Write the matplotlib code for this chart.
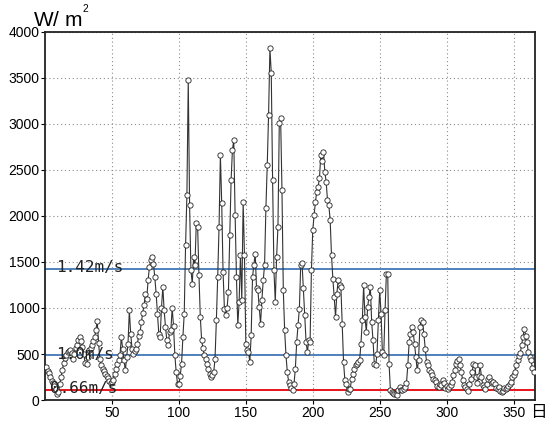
import numpy as np
import matplotlib
matplotlib.use("Agg")
import matplotlib.pyplot as plt

# daily wind power density (W/m2), days 1..365
power = [
    360, 320, 290, 250, 210, 190, 150, 120, 70, 90,
    170, 250, 330, 400, 460, 490, 520, 530, 540, 510,
    450, 500, 560, 600, 650, 680, 640, 580, 500, 400,
    390, 470, 540, 560, 600, 640, 680, 760, 860, 620,
    450, 380, 340, 320, 280, 260, 240, 210, 180, 200,
    213, 285, 340, 394, 440, 485, 684, 558, 431, 321,
    467, 612, 975, 721, 558, 503, 530, 558, 612, 700,
    739, 847, 950, 1029, 1154, 1101, 1301, 1446, 1519, 1555,
    1483, 1337, 1156, 940, 721, 684, 1000, 1230, 975, 794,
    650, 600, 740, 760, 1000, 805, 485, 300, 174, 174,
    264, 394, 685, 939, 1683, 2228, 3479, 2118, 1411, 1266,
    1556, 1466, 1919, 1883, 1357, 903, 649, 560, 485, 449,
    394, 340, 285, 249, 267, 300, 449, 867, 1339, 1883,
    2664, 2137, 1393, 994, 921, 1000, 1175, 1792, 2391, 2718,
    2827, 2010, 1339, 813, 1066, 1574, 1084, 2155, 1574, 613,
    540, 522, 413, 703, 1339, 1466, 1592, 1212, 1193, 1012,
    830, 1084, 1300, 1466, 2082, 2555, 3099, 3825, 3553, 2391,
    1411, 1066, 1556, 1883, 3008, 3062, 2282, 1193, 758, 485,
    303, 194, 158, 130, 104, 176, 340, 631, 813, 994,
    1466, 1484, 1212, 921, 631, 522, 649, 631, 1411, 1846,
    2010, 2155, 2264, 2319, 2410, 2664, 2600, 2700, 2482, 2373,
    2173, 2119, 1955, 1574, 1320, 1121, 903, 1157, 1302, 1248,
    1230, 830, 413, 212, 176, 86, 122, 122, 231, 285,
    340, 376, 394, 410, 431, 613, 867, 1248, 903, 740,
    1012, 1121, 1230, 849, 649, 394, 376, 503, 867, 1193,
    939, 522, 485, 976, 1375, 1375, 394, 104, 86, 75,
    68, 60, 50, 104, 140, 110, 111, 121, 140, 183,
    376, 630, 720, 793, 739, 612, 466, 322, 430, 793,
    866, 847, 720, 557, 411, 376, 322, 303, 267, 230,
    212, 194, 150, 140, 176, 160, 212, 190, 133, 150,
    121, 140, 160, 194, 267, 322, 394, 420, 448, 376,
    303, 212, 158, 140, 121, 100, 170, 230, 300, 394,
    380, 250, 190, 260, 376, 250, 160, 140, 121, 170,
    230, 248, 210, 180, 200, 170, 130, 121, 140, 100,
    85, 100, 130, 120, 130, 150, 170, 200, 250, 270,
    300, 380, 440, 480, 510, 600, 690, 775, 700, 630,
    520, 470, 430, 350, 300,
]
days = np.arange(1, len(power) + 1)

# reference levels (wind speed equivalents)
ref_labels = ["1.42m/s", "1.0m/s", "0.66m/s"]
ref_values = [1420, 490, 110]
ref_colors = ["#4f81bd", "#4f81bd", "#e8141b"]

x_ticks = [50, 100, 150, 200, 250, 300, 350]
y_ticks = list(range(0, 4001, 500))

fig = plt.figure(figsize=(5.49, 4.21), dpi=100)
ax = fig.add_axes([45 / 549, 1 - 400 / 421, 490 / 549, 368 / 421])

ax.grid(True, ls=(0, (1, 2.5)), color="0.55", lw=0.8)
ax.set_axisbelow(True)

for lab, val, col, xoff, dy in zip(ref_labels, ref_values, ref_colors,
                                    [8, 8, 4], [-28, -42, -38]):
    ax.axhline(val, color=col, lw=1.4, zorder=2)
    ax.text(xoff, val + dy, lab, family="DejaVu Sans Mono", fontsize=11.5,
            va="baseline", ha="left", color="#222222", zorder=5)

ax.plot(days, power, color="#333333", lw=0.8, marker="o", ms=3.8,
        mfc="white", mec="#222222", mew=0.6, zorder=4)

ax.set_xlim(0, 366)
ax.set_ylim(0, 4000)
ax.set_xticks(x_ticks)
ax.set_yticks(y_ticks)
ax.tick_params(labelsize=10, length=3, width=0.8, pad=1)
for lbl in ax.get_xticklabels() + ax.get_yticklabels():
    lbl.set_family("Liberation Sans")
for s in ax.spines.values():
    s.set_linewidth(1.3)
    s.set_color("#222222")

# unit label at the top left, with a small raised "2"
fig.text(33 / 549, 1 - 27 / 421, r"W/ m$^{^{\mathregular{2}}}$", fontsize=15,
         family="Liberation Sans", va="baseline", ha="left")
fig.text(530 / 549, 1 - 417 / 421, "日", fontsize=12,
         family=["Noto Sans CJK JP", "DejaVu Sans"], va="baseline", ha="left")

fig.savefig("out.png", dpi=100)
